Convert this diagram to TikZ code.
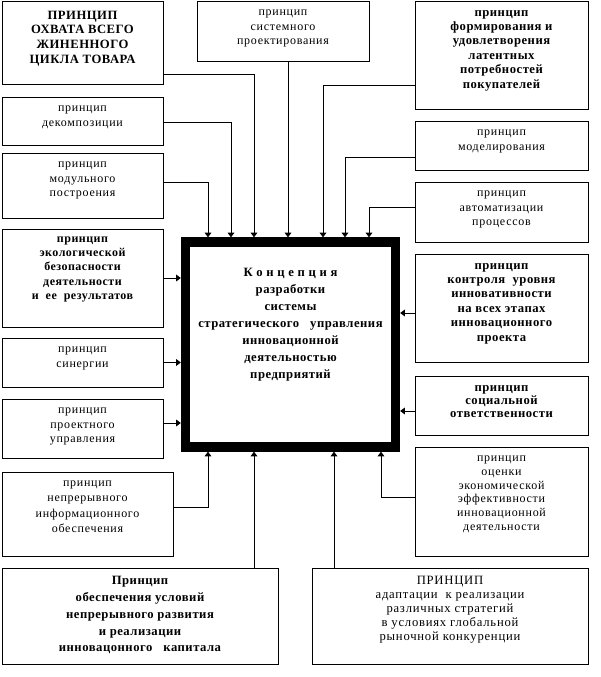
\documentclass[tikz,border=0pt]{standalone}
\usepackage{fontspec}
\setmainfont{Liberation Serif}[LetterSpace=6,BoldFeatures={LetterSpace=4}]
\usetikzlibrary{arrows.meta,fit}

\begin{document}
\begin{tikzpicture}[x=0.75pt,y=-0.75pt,
        box/.style={draw,line width=0.7pt,inner sep=0pt},
        txt/.style={anchor=north,align=center,inner sep=0pt,
            font=\fontsize{9}{10.8}\selectfont,execute at begin node=\vphantom{П}},
        btxt/.style={txt,font=\fontsize{9.5}{10.8}\selectfont\bfseries},
        arr/.style={-{Triangle[width=5pt,length=3.5pt]},line width=0.7pt}]
        \useasboundingbox (0,0) rectangle (600,677);

        % koncepcija
        \node[draw,line width=7pt,inner sep=0pt,fit={(185.5,242) (395.5,447)}] (K) {};
        \node[btxt,font=\fontsize{9.5}{12.75}\selectfont\bfseries] (tK) at ([yshift=-23pt]K.north)
            {К о н ц е п ц и я\\разработки\\системы\\стратегического~~~управления\\инновационной\\деятельностью\\предприятий};

        % principy vlevo
        \node[box,fit={(2,1) (163,84)}] (p1) {};
        \node[btxt,font=\fontsize{9.5}{11}\selectfont\bfseries] (t1) at ([yshift=-7.5pt]p1.north)
            {ПРИНЦИП\\ОХВАТА ВСЕГО\\ЖИНЕННОГО\\ЦИКЛА ТОВАРА};
        \node[box,fit={(2,97) (163,145)}] (p4) {};
        \node[txt] (t4) at ([yshift=-7pt]p4.north) {принцип\\декомпозиции};
        \node[box,fit={(2,153) (163,218)}] (p6) {};
        \node[txt] (t6) at ([yshift=-7pt]p6.north) {принцип\\модульного\\построения};
        \node[box,fit={(2,229) (163,327)}] (p8) {};
        \node[btxt,font=\fontsize{9}{10.7}\selectfont\bfseries] (t8) at ([yshift=-6pt]p8.north)
            {принцип\\экологической\\безопасности\\деятельности\\и~~ее~~результатов};
        \node[box,fit={(2,338) (163,387)}] (p10) {};
        \node[txt] (t10) at ([yshift=-7pt]p10.north) {принцип\\синергии};
        \node[box,fit={(2,399) (163,458)}] (p12) {};
        \node[txt] (t12) at ([yshift=-7pt]p12.north) {принцип\\проектного\\управления};
        \node[box,fit={(2,472) (173,556)}] (p13) {};
        \node[txt,font=\fontsize{9}{11.4}\selectfont] (t13) at ([yshift=-7pt]p13.north)
            {принцип\\непрерывного\\информационного\\обеспечения};

        % principy nahore a vpravo
        \node[box,fit={(197,1) (369,61)}] (p2) {};
        \node[txt] (t2) at ([yshift=-7pt]p2.north) {принцип\\системного\\проектирования};
        \node[box,fit={(415,1) (588,109)}] (p3) {};
        \node[btxt] (t3) at ([yshift=-7pt]p3.north)
            {принцип\\формирования и\\удовлетворения\\латентных\\потребностей\\покупателей};
        \node[box,fit={(415,121) (588,170)}] (p5) {};
        \node[txt] (t5) at ([yshift=-7pt]p5.north) {принцип\\моделирования};
        \node[box,fit={(415,182) (588,242)}] (p7) {};
        \node[txt] (t7) at ([yshift=-7pt]p7.north) {принцип\\автоматизации\\процессов};
        \node[box,fit={(415,254) (588,362)}] (p9) {};
        \node[btxt] (t9) at ([yshift=-7pt]p9.north)
            {принцип\\контроля~~уровня\\инновативности\\на всех этапах\\инновационного\\проекта};
        \node[box,fit={(415,376) (588,435)}] (p11) {};
        \node[btxt,font=\fontsize{9.5}{10}\selectfont\bfseries] (t11) at ([yshift=-7pt]p11.north)
            {принцип\\социальной\\ответственности};
        \node[box,fit={(415,447) (588,556)}] (p14) {};
        \node[txt,font=\fontsize{9}{10.3}\selectfont] (t14) at ([yshift=-7pt]p14.north)
            {принцип\\оценки\\экономической\\эффективности\\инновационной\\деятельности};

        % principy dole
        \node[box,fit={(2,568) (278,664)}] (p15) {};
        \node[btxt,font=\fontsize{9.5}{12.6}\selectfont\bfseries] (t15) at ([yshift=-6.5pt]p15.north)
            {Принцип\\обеспечения условий\\непрерывного развития\\и реализации\\инновацонного~~~капитала};
        \node[box,fit={(312,568) (588,664)}] (p16) {};
        \node[txt,font=\fontsize{9.5}{10.4}\selectfont] (t16) at ([yshift=-6.5pt]p16.north)
            {ПРИНЦИП\\адаптации~~к реализации\\различных стратегий\\в условиях глобальной\\рыночной конкуренции};

        % spojnice
        \draw[arr] (p6.east |- 0,182) -| (K.north -| 208,0);
        \draw[arr] (p4.east |- 0,122) -| (K.north -| 231,0);
        \draw[arr] (p1.east |- 0,74) -| (K.north -| 254,0);
        \draw[arr] (288,0 |- p2.south) -- (K.north -| 288,0);
        \draw[arr] (p3.west |- 0,85) -| (K.north -| 323,0);
        \draw[arr] (p5.west |- 0,157) -| (K.north -| 345,0);
        \draw[arr] (p7.west |- 0,207) -| (K.north -| 369,0);
        \draw[arr] (p8.east) -- (K.west |- p8.east);
        \draw[arr] (p10.east) -- (K.west |- p10.east);
        \draw[arr] (p12.east |- 0,423) -- (K.west |- 0,423);
        \draw[arr] (p9.west |- 0,313) -- (K.east |- 0,313);
        \draw[arr] (p11.west |- 0,411) -- (K.east |- 0,411);
        \draw[arr] (p13.east |- 0,507) -| (K.south -| 208,0);
        \draw[arr] (254,0 |- p15.north) -- (K.south -| 254,0);
        \draw[arr] (334,0 |- p16.north) -- (K.south -| 334,0);
        \draw[arr] (p14.west |- 0,497) -| (K.south -| 381,0);
\end{tikzpicture}
\end{document}
